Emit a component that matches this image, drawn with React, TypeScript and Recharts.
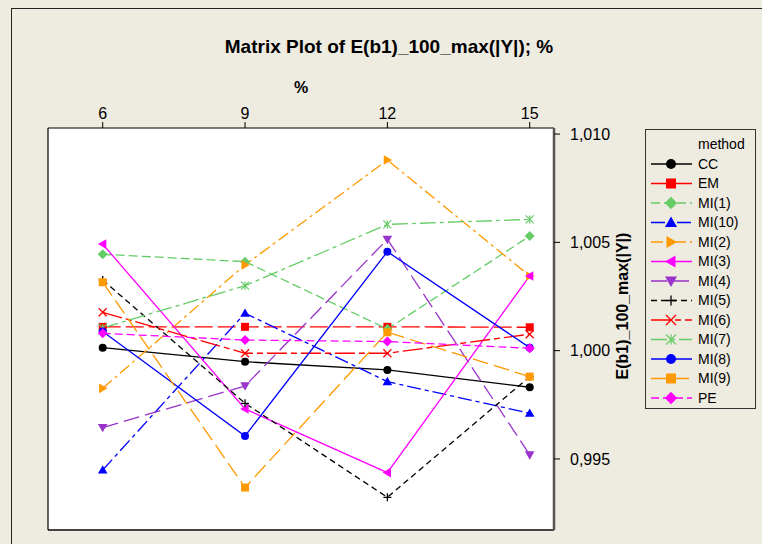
import React from 'react';
import { LineChart, Line, XAxis, YAxis, CartesianGrid, Legend } from 'recharts';

// ---- data ----
const percents = [6, 9, 12, 15];
const xTicks = [6, 9, 12, 15];
const yTicks = [0.995, 1.0, 1.005, 1.01];

const cc = [1.00014, 0.99949, 0.99911, 0.99831];
const em = [1.0011, 1.0011, 1.0011, 1.00108];
const mi1 = [1.00445, 1.00411, 1.001, 1.00529];
const mi10 = [0.99449, 1.00173, 0.99857, 0.99711];
const mi2 = [0.99826, 1.00396, 1.0088, 1.00345];
const mi3 = [1.00492, 0.99731, 0.99437, 1.00345];
const mi4 = [0.99645, 0.99837, 1.00514, 0.99519];
const mi5 = [1.00326, 0.99757, 0.99323, 0.9988];
const mi6 = [1.00177, 0.99988, 0.99988, 1.00076];
const mi7 = [1.00105, 1.003, 1.00583, 1.00606];
const mi8 = [1.00088, 0.99606, 1.00457, 1.00014];
const mi9 = [1.00316, 0.99368, 1.00085, 0.9988];
const pe = [1.0008, 1.00049, 1.00042, 1.00011];

const methodNames = ['CC', 'EM', 'MI(1)', 'MI(10)', 'MI(2)', 'MI(3)', 'MI(4)', 'MI(5)', 'MI(6)', 'MI(7)', 'MI(8)', 'MI(9)', 'PE'];
const methodValues = [cc, em, mi1, mi10, mi2, mi3, mi4, mi5, mi6, mi7, mi8, mi9, pe];

// ---- styles ----
const styles = [
  { color: '#000000', dash: undefined, shape: 'circle' },
  { color: '#FF0000', dash: '18 5', shape: 'square' },
  { color: '#66CC66', dash: '9 4', shape: 'diamond' },
  { color: '#0000FF', dash: '14 4 4 4', shape: 'triUp' },
  { color: '#FF9900', dash: '12 4 3 4', shape: 'triRight' },
  { color: '#FF00FF', dash: undefined, shape: 'triLeft' },
  { color: '#9933CC', dash: '16 6', shape: 'triDown' },
  { color: '#000000', dash: '6 4', shape: 'plus' },
  { color: '#FF0000', dash: '20 4 6 4', shape: 'cross' },
  { color: '#66CC66', dash: '16 4 4 4', shape: 'asterisk' },
  { color: '#0000FF', dash: undefined, shape: 'circle' },
  { color: '#FF9900', dash: '16 6', shape: 'square' },
  { color: '#FF00FF', dash: '8 4', shape: 'diamond' },
];

const rows = percents.map((p, i) => {
  const r: any = { pct: p };
  methodValues.forEach((arr, k) => {
    r['s' + k] = arr[i];
  });
  return r;
});

const FONT = '"Liberation Sans", Arial, Helvetica, sans-serif';

function Marker({ shape, cx, cy, color, s }: any) {
  const h = s / 2;
  switch (shape) {
    case 'circle':
      return <circle cx={cx} cy={cy} r={h} fill={color} />;
    case 'square':
      return <rect x={cx - h} y={cy - h} width={s} height={s} fill={color} />;
    case 'diamond': {
      const d = s * 0.62;
      return <polygon points={`${cx},${cy - d} ${cx + d},${cy} ${cx},${cy + d} ${cx - d},${cy}`} fill={color} />;
    }
    case 'triUp': {
      const d = s * 0.6;
      return <polygon points={`${cx},${cy - d} ${cx + d},${cy + d * 0.75} ${cx - d},${cy + d * 0.75}`} fill={color} />;
    }
    case 'triDown': {
      const d = s * 0.6;
      return <polygon points={`${cx},${cy + d} ${cx + d},${cy - d * 0.75} ${cx - d},${cy - d * 0.75}`} fill={color} />;
    }
    case 'triRight': {
      const d = s * 0.6;
      return <polygon points={`${cx + d},${cy} ${cx - d * 0.75},${cy - d} ${cx - d * 0.75},${cy + d}`} fill={color} />;
    }
    case 'triLeft': {
      const d = s * 0.6;
      return <polygon points={`${cx - d},${cy} ${cx + d * 0.75},${cy - d} ${cx + d * 0.75},${cy + d}`} fill={color} />;
    }
    case 'plus':
      return (
        <path d={`M${cx - h},${cy}H${cx + h}M${cx},${cy - h}V${cy + h}`} stroke={color} strokeWidth={1.3} fill="none" />
      );
    case 'cross':
      return (
        <path
          d={`M${cx - h},${cy - h}L${cx + h},${cy + h}M${cx + h},${cy - h}L${cx - h},${cy + h}`}
          stroke={color}
          strokeWidth={1.3}
          fill="none"
        />
      );
    case 'asterisk':
      return (
        <path
          d={`M${cx - h},${cy - h}L${cx + h},${cy + h}M${cx + h},${cy - h}L${cx - h},${cy + h}M${cx},${cy - h}V${cy + h}`}
          stroke={color}
          strokeWidth={1.2}
          fill="none"
        />
      );
    default:
      return null;
  }
}

const makeDot = (k: number) => (props: any) => {
  const { cx, cy, index } = props;
  const st = styles[k];
  return (
    <g key={`d-${k}-${index}`}>
      <Marker shape={st.shape} cx={cx} cy={cy} color={st.color} s={8} />
    </g>
  );
};

function LegendBox() {
  const rowH = 19.5;
  return (
    <div
      style={{
        width: 111,
        height: 280,
        border: '1.5px solid #333',
        boxSizing: 'border-box',
        fontFamily: FONT,
      }}
    >
      <svg width={108} height={277} style={{ display: 'block' }}>
        <text x={52} y={15} fontSize={14} fill="#000" dominantBaseline="middle" fontFamily={FONT}>
          method
        </text>
        {methodNames.map((name, k) => {
          const y = 34 + k * rowH;
          const st = styles[k];
          return (
            <g key={name}>
              <line x1={5} x2={46} y1={y} y2={y} stroke={st.color} strokeWidth={1.3} strokeDasharray={st.dash} />
              <Marker shape={st.shape} cx={25} cy={y} color={st.color} s={10} />
              <text x={52} y={y + 1} fontSize={14} fill="#000" dominantBaseline="middle" fontFamily={FONT}>
                {name}
              </text>
            </g>
          );
        })}
      </svg>
    </div>
  );
}

const fmt = (v: number) => v.toFixed(3).replace('.', ',');

export default function App() {
  return (
    <div
      style={{
        position: 'absolute',
        left: 0,
        top: 0,
        width: 762,
        height: 544,
        overflow: 'hidden',
        background: '#EEEBE1',
        fontFamily: FONT,
      }}
    >
      <div
        style={{
          position: 'absolute',
          left: 11,
          top: 8,
          width: 900,
          height: 700,
          border: '1.5px solid #222',
        }}
      />
      <div
        style={{
          position: 'absolute',
          left: 189,
          top: 35,
          width: 400,
          textAlign: 'center',
          fontSize: 19,
          fontWeight: 'bold',
          lineHeight: '24px',
          color: '#000',
        }}
      >
        Matrix Plot of E(b1)_100_max(|Y|); %
      </div>
      <div style={{ position: 'absolute', left: 0, top: 0 }}>
        <LineChart width={762} height={544} data={rows} margin={{ top: 98, right: 148, bottom: 13, left: 47 }}>
          <CartesianGrid fill="#FFFFFF" horizontal={false} vertical={false} stroke="none" />
          <XAxis
            dataKey="pct"
            type="number"
            orientation="top"
            domain={[4.847, 15.512]}
            ticks={xTicks}
            interval={0}
            allowDataOverflow
            height={30}
            tickSize={6}
            tickMargin={3}
            axisLine={{ stroke: '#000', strokeWidth: 1 }}
            tickLine={{ stroke: '#000' }}
            tick={{ fill: '#000', fontSize: 16, fontFamily: FONT }}
            label={{ value: '%', position: 'top', offset: 5, fill: '#000', fontSize: 16, fontWeight: 'bold', fontFamily: FONT }}
          />
          <XAxis
            xAxisId="bottom"
            dataKey="pct"
            type="number"
            orientation="bottom"
            domain={[4.847, 15.512]}
            allowDataOverflow
            height={1}
            tick={false}
            tickLine={false}
            axisLine={{ stroke: '#444', strokeWidth: 2 }}
          />
          <YAxis
            type="number"
            orientation="right"
            domain={[0.99172, 1.01028]}
            allowDataOverflow
            ticks={yTicks}
            interval={0}
            width={60}
            tickSize={6}
            tickMargin={10}
            tickFormatter={fmt}
            axisLine={{ stroke: '#555', strokeWidth: 2.5 }}
            tickLine={{ stroke: '#000' }}
            tick={{ fill: '#000', fontSize: 16, fontFamily: FONT }}
            label={{
              value: 'E(b1)_100_max(|Y|)',
              angle: -90,
              position: 'center',
              dx: 38,
              dy: -23,
              fill: '#000',
              fontSize: 16,
              fontWeight: 'bold',
              fontFamily: FONT,
            }}
          />
          <YAxis
            yAxisId="left"
            type="number"
            orientation="left"
            domain={[0, 1]}
            allowDataOverflow
            width={1}
            tick={false}
            tickLine={false}
            axisLine={{ stroke: '#000', strokeWidth: 1.2 }}
          />
          {methodNames.map((name, k) => (
            <Line
              key={name}
              name={name}
              dataKey={'s' + k}
              type="linear"
              stroke={styles[k].color}
              strokeWidth={1.3}
              strokeDasharray={styles[k].dash}
              dot={makeDot(k)}
              activeDot={false}
              isAnimationActive={false}
            />
          ))}
          <Legend
            layout="vertical"
            align="center"
            verticalAlign="middle"
            wrapperStyle={{ position: 'absolute', left: 645, top: 129, width: 111, height: 280 }}
            content={() => <LegendBox />}
          />
        </LineChart>
      </div>
    </div>
  );
}
